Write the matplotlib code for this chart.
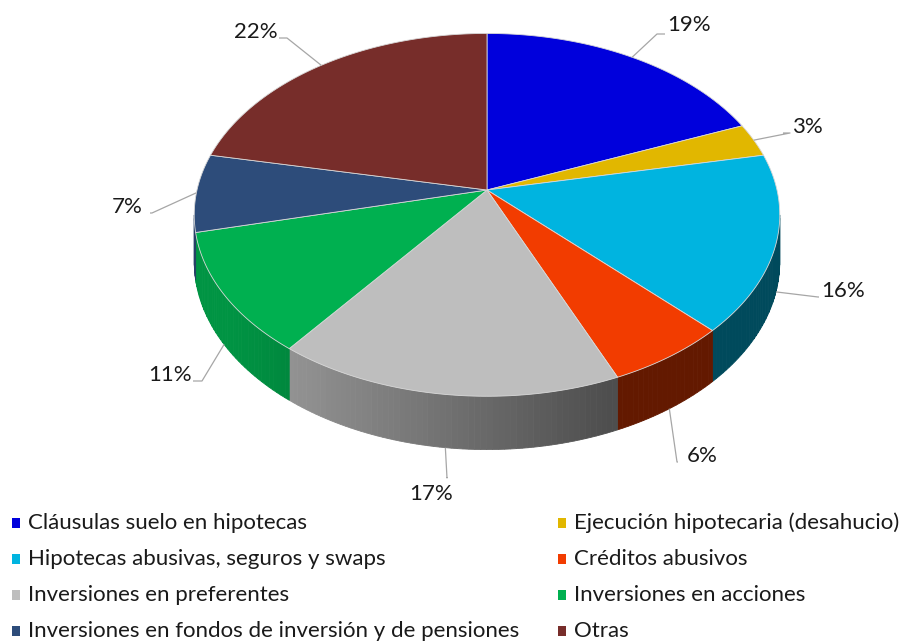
import numpy as np
import matplotlib
matplotlib.use("Agg")
import matplotlib.pyplot as plt
from matplotlib.patches import Polygon, Rectangle
from matplotlib.colors import to_rgb

plt.rcParams["font.family"] = ["Lato", "DejaVu Sans"]

# data
categories = ["Cláusulas suelo en hipotecas",
              "Ejecución hipotecaria (desahucio)",
              "Hipotecas abusivas, seguros y swaps",
              "Créditos abusivos",
              "Inversiones en preferentes",
              "Inversiones en acciones",
              "Inversiones en fondos de inversión y de pensiones",
              "Otras"]
shares = [19, 3, 16, 6, 17, 11, 7, 22]
colors = ["#0000DC", "#E1B700", "#00B4E0", "#F23C00",
          "#BEBEBE", "#00B050", "#2D4C7A", "#772D2A"]

# geometry of the tilted pie (pixel units)
cx, cy = 487, 190
rx, ry = 290, 178
persp = 0.137
depth = 46

# label placement: text centre and elbow of leader
label_pos = [(689, 25), (807, 127), (843, 291), (702, 456),
             (431, 494), (170, 375), (127, 207), (256, 32)]
elbow_pos = [(657, 34), (790, 133), (818, 297), (677, 462),
             (447, 478), (202, 381), (152, 213), (287, 38)]
label_side = ["left", "left", "left", "left", "top", "right", "right", "right"]


def proj(theta, drop=0.0):
    X = np.sin(theta)
    Z = np.cos(theta)
    w = 1 + persp * Z
    return cx + rx * X / w, cy - ry * Z / w + drop / w


fig = plt.figure(figsize=(8.99, 6.41), dpi=100)
ax = fig.add_axes([0, 0, 1, 1])
ax.set_xlim(0, 899)
ax.set_ylim(641, 0)
ax.axis("off")

fr = np.array(shares, dtype=float) / sum(shares)
edges = np.concatenate([[0], np.cumsum(fr)]) * 2 * np.pi

# silhouette angles (right / left extremes)
tt = np.linspace(0, 2 * np.pi, 3601)
xs, _ = proj(tt)
th_r = tt[np.argmax(xs)]
th_l = tt[np.argmin(xs)]

# side walls, shaded from light (left) to dark (right)
for i in range(len(shares)):
    a0 = max(edges[i], th_r)
    a1 = min(edges[i + 1], th_l)
    if a1 <= a0:
        continue
    n = max(int(np.degrees(a1 - a0)), 2)
    aa = np.linspace(a0, a1, n + 1)
    base = np.array(to_rgb(colors[i]))
    for k in range(n):
        seg = np.linspace(aa[k], aa[k + 1], 4)
        tx, ty = proj(seg)
        bx, by = proj(seg[::-1], depth)
        xm = tx.mean()
        f = max(0.41, min(0.84, 0.84 - 0.42 * (xm - 230) / 370))
        c = np.clip(base * f, 0, 1)
        ax.add_patch(Polygon(np.column_stack([np.r_[tx, bx], np.r_[ty, by]]),
                             closed=True, fc=c, ec=c, lw=0.6))

# top faces
for i in range(len(shares)):
    seg = np.linspace(edges[i], edges[i + 1], 200)
    px, py = proj(seg)
    pts = np.column_stack([np.r_[cx, px], np.r_[cy, py]])
    ax.add_patch(Polygon(pts, closed=True, fc=colors[i], ec="#d8d8d8",
                         lw=0.6, joinstyle="round"))

# labels with leader lines
for i in range(len(shares)):
    mid = 0.5 * (edges[i] + edges[i + 1])
    front = np.cos(mid) < -0.2
    ax_, ay_ = proj(mid, depth if front else 0.0)
    ex, ey = elbow_pos[i]
    lx, ly = label_pos[i]
    if label_side[i] == "left":
        endx, endy = lx - 24, ey
    elif label_side[i] == "right":
        endx, endy = lx + 23, ey
    else:
        endx, endy = ex, ly - 17
    ax.plot([ax_, ex, endx], [ay_, ey, endy], color="#a6a6a6", lw=0.9,
            solid_capstyle="butt")
    ax.text(lx, ly, f"{shares[i]}%", ha="center", va="center",
            fontsize=16, color="#1a1a1a")

# legend (two columns, row-major order)
col_x = [16, 562]
row_y = [523, 559, 595, 631]
for i, name in enumerate(categories):
    x0 = col_x[i % 2]
    y0 = row_y[i // 2]
    ax.add_patch(Rectangle((x0 - 4, y0 - 5), 8, 10, fc=colors[i], ec="none"))
    ax.text(x0 + 12, y0, name, ha="left", va="center", fontsize=16,
            color="#1a1a1a")

fig.savefig("out.png", dpi=100)
